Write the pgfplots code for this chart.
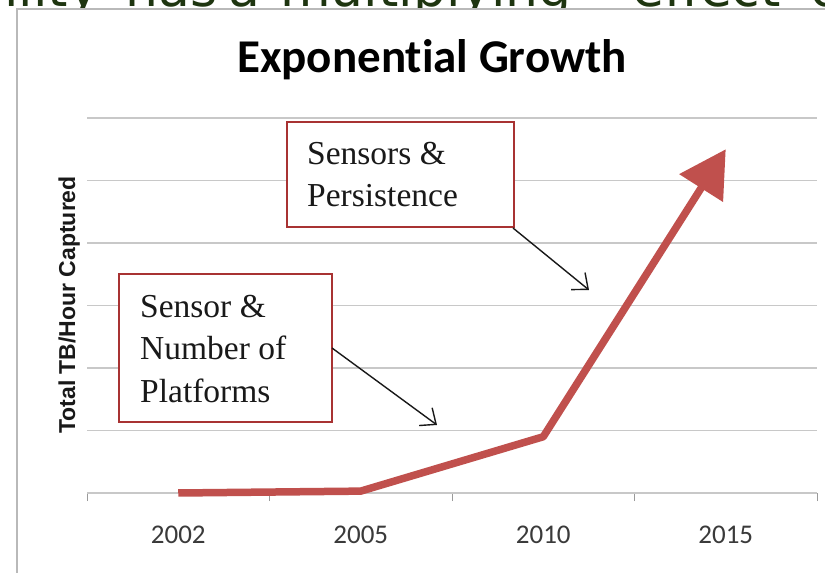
\documentclass[border=0pt]{standalone}
\usepackage{fontspec}
\setmainfont{Liberation Serif}
\newfontfamily\calibri[Ligatures=NoCommon]{Carlito}
\newfontfamily\arial{Liberation Sans}
\newfontfamily\dejavu{DejaVu Sans}
\usepackage{pgfplots}
\pgfplotsset{compat=1.18}
\usetikzlibrary{arrows.meta}
\definecolor{linered}{HTML}{C0504D}
\definecolor{boxred}{HTML}{A83232}
\definecolor{topgreen}{HTML}{1E3510}
\definecolor{gridgray}{HTML}{C8C8C8}
\definecolor{tickgray}{HTML}{9A9A9A}
\definecolor{labgray}{HTML}{3A3A3A}
\begin{document}
\begin{tikzpicture}[x=1pt,y=1pt]
\useasboundingbox (0,0) rectangle (825,573);
% cut-off slide text at the top
\begin{scope}[every node/.style={inner sep=0pt, anchor=base west, text=topgreen, font=\dejavu\fontsize{52}{60}\selectfont}]
\node[anchor=base east] at (99,566) {bility};
\node at (125,566) {has};
\node at (228,566) {a};
\node at (280,566) {multiplying};
\node at (632,566) {effect};
\node at (810,566) {on};
\end{scope}
% chart frame
\draw[gray!55, line width=1.5pt, fill=white] (17,564) rectangle (845,-20);
\begin{axis}[
  at={(87pt,80pt)}, anchor=south west,
  scale only axis, width=730pt, height=375pt,
  xmin=-0.5, xmax=3.5, ymin=0, ymax=6,
  clip=false,
  axis x line=bottom, axis y line=left,
  axis line style={-},
  x axis line style={gridgray, line width=1.5pt},
  y axis line style={draw=none},
  xtick={0,1,2,3},
  xticklabels={2002,2005,2010,2015},
  major x tick style={draw=none},
  minor xtick={-0.5,0.5,1.5,2.5,3.5},
  minor tick length=8pt,
  minor x tick style={tickgray, line width=1pt},
  tick align=outside,
  xticklabel style={anchor=base, yshift=-46pt, text=labgray, font=\calibri\fontsize{27}{30}\selectfont},
  ytick={1,2,3,4,5,6},
  yticklabels={},
  ytick style={draw=none},
  ymajorgrids,
  major grid style={gridgray, line width=1.5pt},
]
\addplot[linered, line width=7.5pt, line join=round, -{Triangle[length=46pt,width=50pt]}]
  coordinates {(0,0) (1,0.03) (2,0.9) (3,5.5)};
\end{axis}
% title and y label
\node[anchor=base, inner sep=0pt, font=\calibri\bfseries\fontsize{47}{50}\selectfont] at (432,500) {Exponential Growth};
\node[rotate=90, anchor=base, inner sep=0pt, text=black!90, font=\arial\bfseries\fontsize{23}{26}\selectfont] at (75,268) {Total TB/Hour Captured};
% annotation boxes
\draw[boxred, line width=2pt, fill=white] (287,451) rectangle (514,346);
\draw[boxred, line width=2pt, fill=white] (119,299) rectangle (332,151);
\begin{scope}[every node/.style={inner sep=0pt, anchor=base west, font=\fontsize{33.5}{40}\selectfont, text=black!90}]
\node at (307,408) {Sensors \&};
\node at (307,366) {Persistence};
\node at (140,255) {Sensor \&};
\node at (140,213) {Number of};
\node at (140,170) {Platforms};
\end{scope}
% annotation arrows
\draw[black!90, line width=1.4pt, -{Straight Barb[length=13pt,width=22pt]}] (513,345) -- (589,283);
\draw[black!90, line width=1.4pt, -{Straight Barb[length=13pt,width=22pt]}] (332,225) -- (437,148);
\end{tikzpicture}
\end{document}
